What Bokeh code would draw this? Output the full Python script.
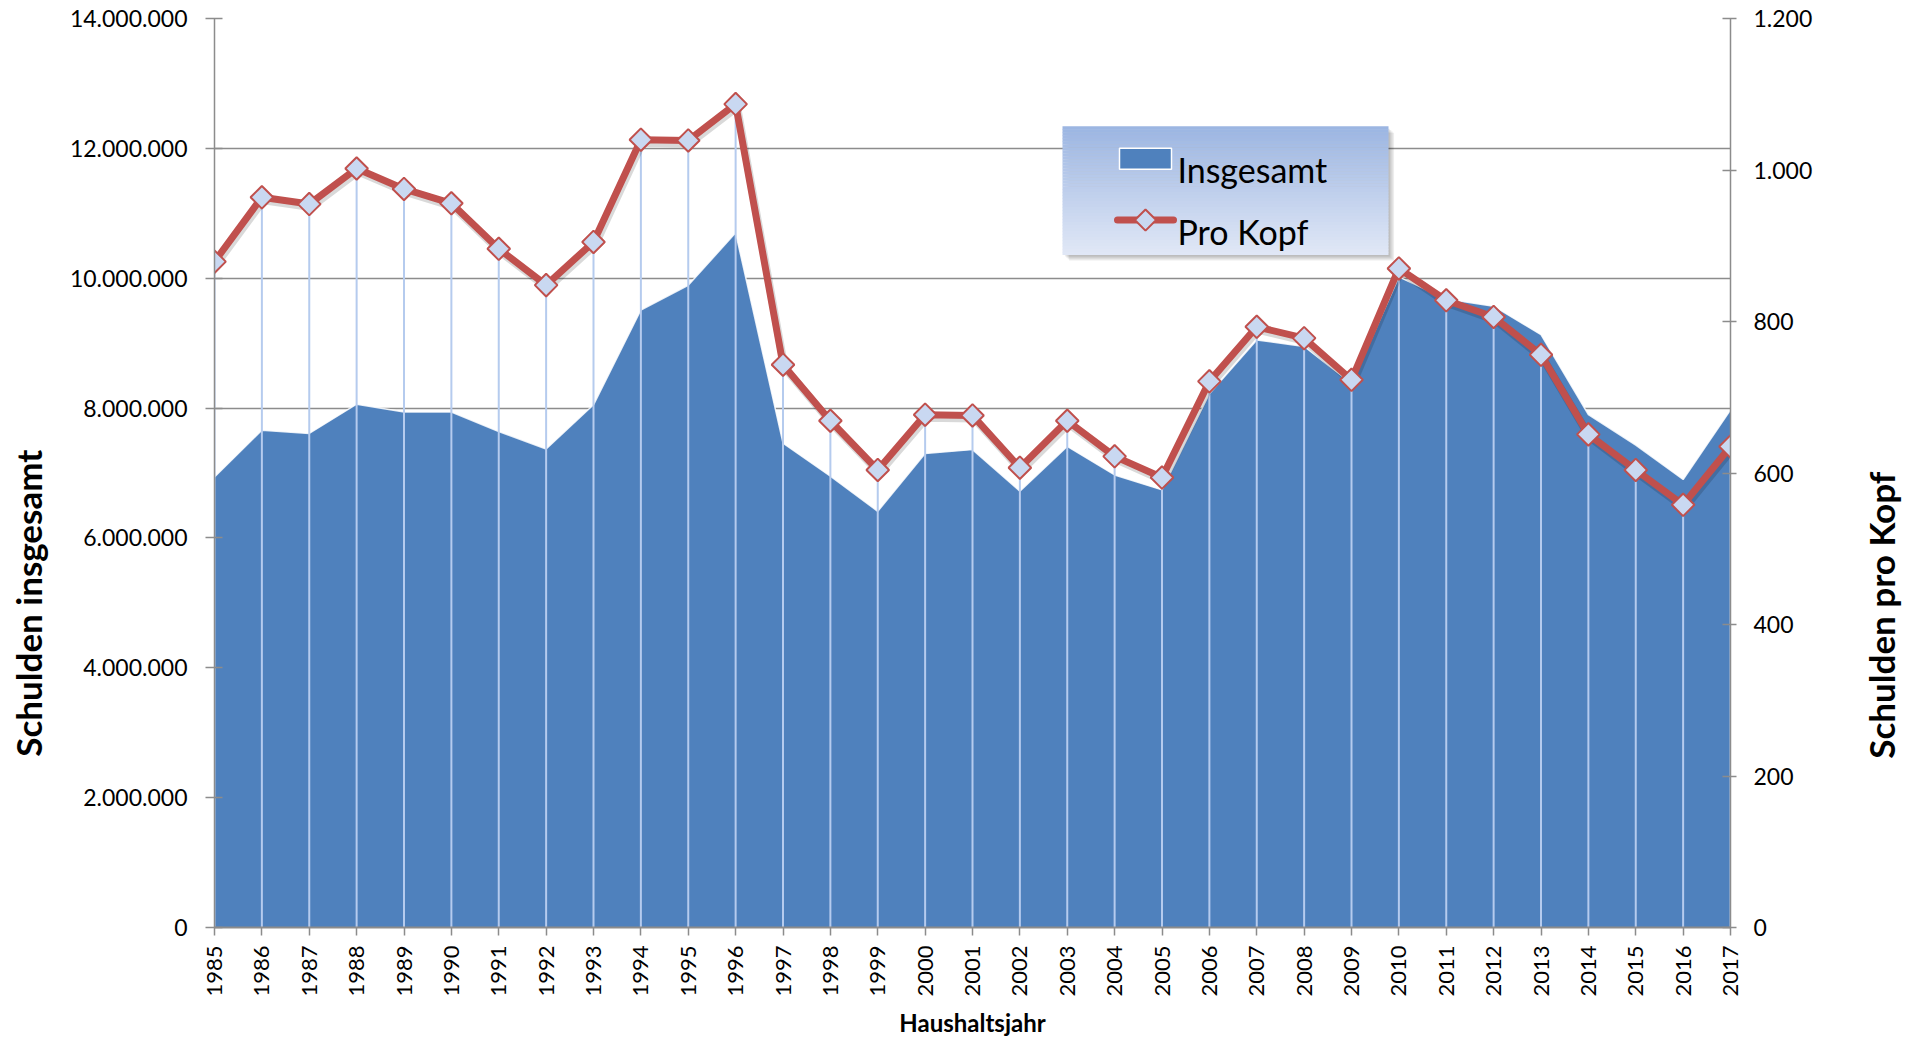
import math
from bokeh.plotting import figure
from bokeh.layouts import row
from bokeh.models import Range1d, LinearAxis, FixedTicker, CustomJSTickFormatter, ColumnDataSource
from bokeh.core.properties import value
from bokeh.embed import file_html
from bokeh.resources import INLINE

# ---------------- data ----------------
years = list(range(1985, 2018))
insgesamt = [6940000, 7660000, 7610000, 8060000, 7940000, 7940000, 7640000, 7370000,
             8050000, 9510000, 9890000, 10700000, 7460000, 6950000, 6410000, 7300000,
             7360000, 6720000, 7410000, 6970000, 6740000, 8220000, 9050000, 8950000,
             8380000, 10020000, 9680000, 9570000, 9130000, 7900000, 7430000, 6900000,
             7970000]
pro_kopf = [879, 964, 955, 1002, 975, 956, 896, 848, 905, 1040, 1039, 1087, 743,
            669, 604, 677, 676, 607, 669, 622, 594, 721, 793, 778, 723, 870, 828,
            806, 756, 651, 604, 558, 635]
left_ticks = [0, 2000000, 4000000, 6000000, 8000000, 10000000, 12000000, 14000000]
right_ticks = [0, 200, 400, 600, 800, 1000, 1200]
series_names = ["Insgesamt", "Pro Kopf"]
title_left = "Schulden insgesamt"
title_right = "Schulden pro Kopf"
title_x = "Haushaltsjahr"

# ---------------- styling ----------------
BLUE = "#4F81BD"
RED = "#C0504D"
GRID = "#8C8C8C"
FONT = "Lato"

LEFT_W = 58
RIGHT_W = 55
MAIN_W = 1802
MAIN_H = 1039
BL, BR, BT, BB = 156, 130, 18, 110
FY0, FY1 = BT, MAIN_H - BB          # frame top / bottom in page pixels
FX0, FX1 = LEFT_W + BL, LEFT_W + MAIN_W - BR


def strip(w, h):
    # side strip whose frame lines up with the main frame; data y == page y
    f = figure(width=w, height=h, output_backend="svg", toolbar_location=None,
               x_range=Range1d(0, w), y_range=Range1d(FY1, FY0),
               x_axis_type=None, y_axis_type=None,
               min_border_left=0, min_border_right=0, min_border_top=BT, min_border_bottom=BB)
    f.outline_line_color = None
    f.background_fill_color = "white"
    f.border_fill_color = "white"
    f.grid.visible = False
    return f


p = figure(width=MAIN_W, height=MAIN_H, output_backend="svg", toolbar_location=None,
           x_range=Range1d(years[0], years[-1]), y_range=Range1d(left_ticks[0], left_ticks[-1]),
           min_border_left=BL, min_border_right=BR, min_border_top=BT, min_border_bottom=BB)
p.outline_line_color = None
p.background_fill_color = "white"
p.border_fill_color = "white"
p.extra_y_ranges = {"kopf": Range1d(right_ticks[0], right_ticks[-1])}

p.xgrid.visible = False
p.ygrid.ticker = FixedTicker(ticks=left_ticks)
p.ygrid.grid_line_color = GRID
p.ygrid.grid_line_width = 1.5

fmt = CustomJSTickFormatter(code=r"return Math.round(tick).toString().replace(/\B(?=(\d{3})+(?!\d))/g, '.');")

xa = p.xaxis[0]
xa.ticker = FixedTicker(ticks=years)
xa.major_label_overrides = {y: str(y) for y in years}
xa.major_label_orientation = math.pi / 2
xa.major_label_text_font = FONT
xa.major_label_text_font_size = "22px"
xa.major_label_text_color = "black"
xa.major_label_standoff = 10
xa.major_tick_in = 0
xa.major_tick_out = 8
xa.minor_tick_line_color = None
xa.axis_line_color = GRID
xa.axis_line_width = 2
xa.major_tick_line_color = GRID
xa.major_tick_line_width = 1.5
xa.axis_label = title_x
xa.axis_label_text_font = FONT
xa.axis_label_text_font_style = "bold"
xa.axis_label_text_font_size = "24px"
xa.axis_label_text_color = "black"
xa.axis_label_standoff = 8

ya = p.yaxis[0]
ya.ticker = FixedTicker(ticks=left_ticks)
ya.formatter = fmt
ya.major_label_text_font = FONT
ya.major_label_text_font_size = "23px"
ya.major_label_text_color = "black"
ya.major_label_standoff = 18
ya.major_tick_in = 8
ya.major_tick_out = 9
ya.minor_tick_line_color = None
ya.axis_line_color = GRID
ya.axis_line_width = 1.5
ya.major_tick_line_color = GRID
ya.major_tick_line_width = 1.5

ra = LinearAxis(y_range_name="kopf", ticker=FixedTicker(ticks=right_ticks), formatter=fmt)
ra.major_label_text_font = FONT
ra.major_label_text_font_size = "23px"
ra.major_label_text_color = "black"
ra.major_label_standoff = 17
ra.major_tick_in = 8
ra.major_tick_out = 6
ra.minor_tick_line_color = None
ra.axis_line_color = GRID
ra.axis_line_width = 1.5
ra.major_tick_line_color = GRID
ra.major_tick_line_width = 1.5
p.add_layout(ra, "right")

# ---------------- series ----------------
frame_w = FX1 - FX0
frame_h = FY1 - FY0
sx_off = 1.5 / frame_w * (years[-1] - years[0])
sy_off = 3.0 / frame_h * (right_ticks[-1] - right_ticks[0])

src = ColumnDataSource(dict(
    year=years, insgesamt=insgesamt, pro_kopf=pro_kopf, zero=[0] * len(years),
    shadow_x=[y + sx_off for y in years], shadow_y=[v - sy_off for v in pro_kopf]))

p.varea(x="year", y1="zero", y2="insgesamt", source=src, fill_color=BLUE)
p.line(x="year", y="insgesamt", source=src, line_color="white", line_width=1.5, line_alpha=0.85)
p.segment(x0="year", y0="zero", x1="year", y1="pro_kopf", source=src, y_range_name="kopf",
          line_color="#B5CBEE", line_width=2)
p.line(x="shadow_x", y="shadow_y", source=src, y_range_name="kopf",
       line_color="black", line_alpha=0.15, line_width=8, line_join="round")
p.line(x="year", y="pro_kopf", source=src, y_range_name="kopf",
       line_color=RED, line_width=7, line_join="round")
p.scatter(x="year", y="pro_kopf", source=src, y_range_name="kopf", marker="square",
          angle=math.pi / 4, size=16, fill_color="#C9D8F1", line_color=RED, line_width=2)


# ---------------- legend (drawn by hand, positioned in page pixels) ----------------
def dx(px):
    return years[0] + (px - FX0) / (FX1 - FX0) * (years[-1] - years[0])


def dy(py):
    return (FY1 - py) / (FY1 - FY0) * (left_ticks[-1] - left_ticks[0])


LX0, LX1, LY0, LY1 = 1062, 1388, 126, 255
for k in range(1, 5):
    o = 1.4 * k
    p.quad(left=[dx(LX0 + o + 1)], right=[dx(LX1 + o)], top=[dy(LY0 + o + 1)], bottom=[dy(LY1 + o)],
           fill_color="black", fill_alpha=0.07, line_color=None)
n = 43
top_c = (155, 181, 226)
bot_c = (225, 232, 246)
lefts, rights, tops, bottoms, cols = [], [], [], [], []
for i in range(n):
    t = (i + 0.5) / n
    c = tuple(int(round(top_c[j] + (bot_c[j] - top_c[j]) * t)) for j in range(3))
    y0 = LY0 + (LY1 - LY0) * i / n
    y1 = LY0 + (LY1 - LY0) * (i + 1) / n + 0.4
    lefts.append(dx(LX0)); rights.append(dx(LX1))
    tops.append(dy(y0)); bottoms.append(dy(min(y1, LY1)))
    cols.append("#%02x%02x%02x" % c)
p.quad(left=lefts, right=rights, top=tops, bottom=bottoms, fill_color=cols, line_color=None)

p.quad(left=[dx(1119)], right=[dx(1171)], top=[dy(148)], bottom=[dy(169)],
       fill_color=BLUE, line_color="white", line_width=1.5)
p.line(x=[dx(1117), dx(1173)], y=[dy(220), dy(220)], line_color=RED, line_width=7, line_cap="round")
p.scatter(x=[dx(1145)], y=[dy(220)], marker="square", angle=math.pi / 4, size=15,
          fill_color="#C9D8F1", line_color=RED, line_width=2)
p.text(x=[dx(1177), dx(1177)], y=[dy(169), dy(231)], text=series_names,
       text_font=value(FONT), text_font_size=value("34px"), text_color="black",
       text_baseline="alphabetic", text_align="left")

# ---------------- y-axis titles in side strips ----------------
left_strip = strip(LEFT_W, MAIN_H)
left_strip.text(x=[27], y=[604], text=[title_left], angle=math.pi / 2,
                text_align="center", text_baseline="middle",
                text_font=value(FONT), text_font_style="bold", text_font_size=value("35px"),
                text_color="black")

right_strip = strip(RIGHT_W, MAIN_H)
right_strip.text(x=[1880 - (LEFT_W + MAIN_W)], y=[616], text=[title_right], angle=math.pi / 2,
                 text_align="center", text_baseline="middle",
                 text_font=value(FONT), text_font_style="bold", text_font_size=value("35px"),
                 text_color="black")

layout = row(left_strip, p, right_strip)

open("out.html", "w").write(file_html(layout, INLINE))
